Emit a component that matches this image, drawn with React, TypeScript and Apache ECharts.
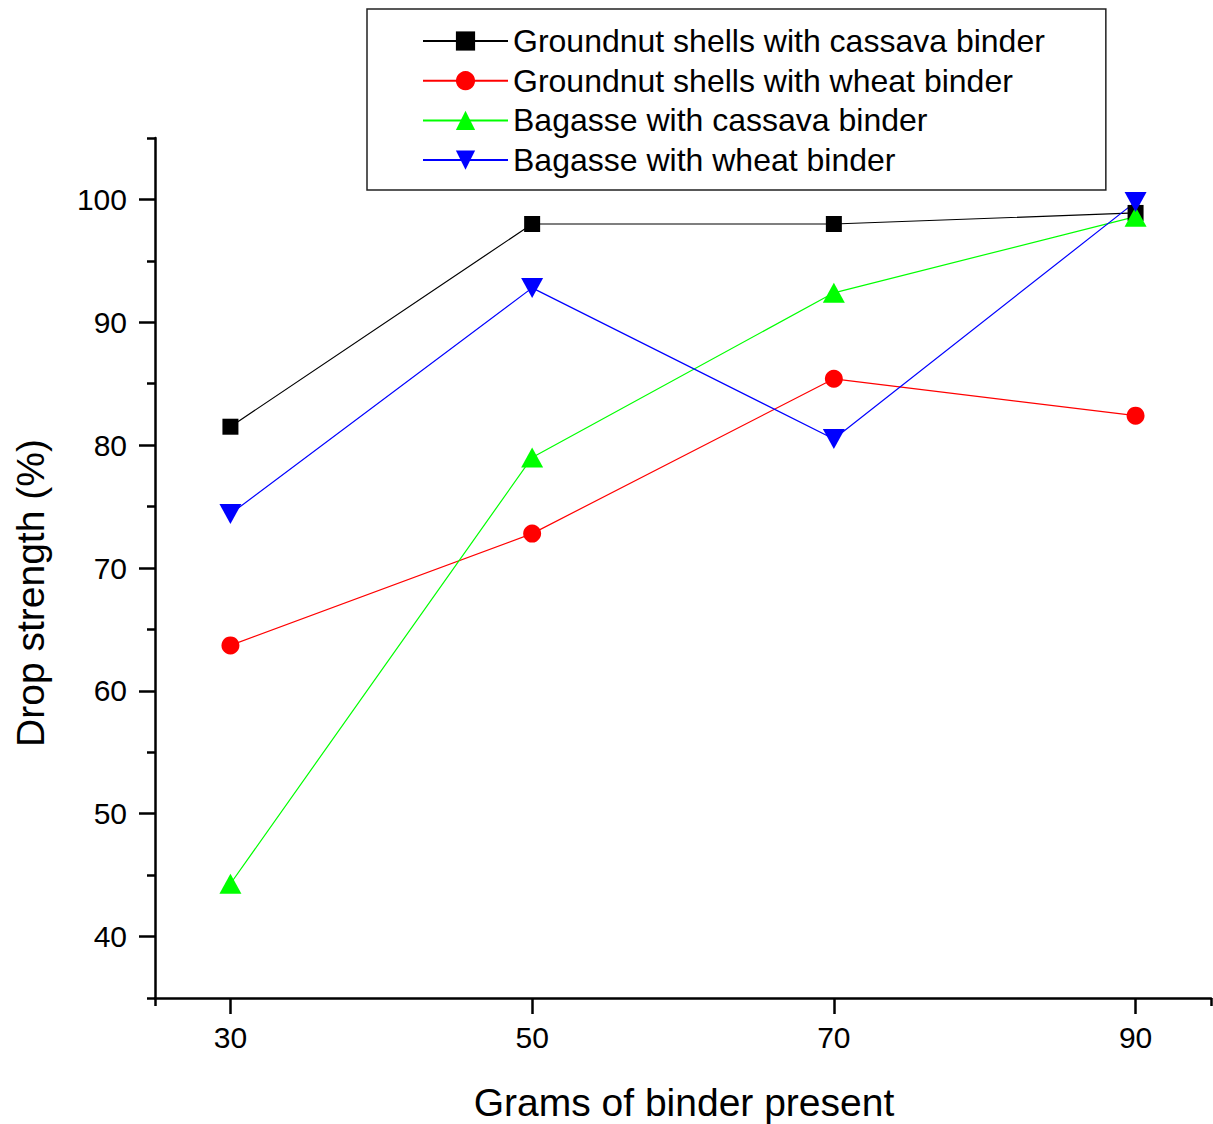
import React, { useEffect, useRef } from "react";
import * as echarts from "echarts";

const xValues = [30, 50, 70, 90];
const groundnutCassava = [81.5, 98.0, 98.0, 98.9];
const groundnutWheat = [63.7, 72.8, 85.4, 82.4];
const bagasseCassava = [44.3, 79.0, 92.4, 98.6];
const bagasseWheat = [74.4, 92.8, 80.5, 99.8];

const seriesNames = [
  "Groundnut shells with cassava binder",
  "Groundnut shells with wheat binder",
  "Bagasse with cassava binder",
  "Bagasse with wheat binder",
];
const xMajorTicks = [30, 50, 70, 90];
const xEdgeTicks = [25, 95];
const yMajorTicks = [40, 50, 60, 70, 80, 90, 100];
const yMinorTicks = [35, 45, 55, 65, 75, 85, 95, 105];

const FONT = "'Liberation Sans', Arial, sans-serif";

export default function App() {
  const ref = useRef<HTMLDivElement>(null);
  useEffect(() => {
    document.body.style.margin = "0";
    if (!ref.current) return;
    const chart = echarts.init(ref.current, null, { renderer: "svg" });
    const pair = (arr: number[]) => xValues.map((x, i) => [x, arr[i]]);
    const axisLineStyle = { color: "#000", width: 2.5 };
    chart.setOption({
      animation: false,
      backgroundColor: "#fff",
      textStyle: { fontFamily: FONT },
      grid: { left: 155, right: 2, top: 138, bottom: 126, containLabel: false },
      legend: {
        orient: "vertical",
        left: 367,
        top: 9,
        width: 680,
        padding: [16, 61, 14, 55],
        itemWidth: 85,
        itemHeight: 24,
        itemGap: 7.7,
        borderColor: "#222",
        borderWidth: 1.5,
        backgroundColor: "#fff",
        textStyle: { fontSize: 32, color: "#000", fontFamily: FONT },
        data: seriesNames,
      },
      xAxis: [
        {
          type: "value",
          min: 25,
          max: 95,
          position: "bottom",
          axisLine: { show: true, onZero: false, lineStyle: axisLineStyle },
          axisTick: { show: true, customValues: xMajorTicks, length: 16, lineStyle: axisLineStyle },
          axisLabel: { customValues: xMajorTicks, fontSize: 30, color: "#000", margin: 24, fontFamily: FONT },
          splitLine: { show: false },
        },
        {
          type: "value",
          min: 25,
          max: 95,
          position: "bottom",
          axisLine: { show: false },
          axisTick: { show: true, customValues: xEdgeTicks, length: 8, lineStyle: axisLineStyle },
          axisLabel: { show: false },
          splitLine: { show: false },
        },
      ],
      yAxis: [
        {
          type: "value",
          min: 35,
          max: 105,
          position: "left",
          axisLine: { show: true, onZero: false, lineStyle: axisLineStyle },
          axisTick: { show: true, customValues: yMajorTicks, length: 16, lineStyle: axisLineStyle },
          axisLabel: { customValues: yMajorTicks, fontSize: 30, color: "#000", margin: 28, fontFamily: FONT },
          splitLine: { show: false },
        },
        {
          type: "value",
          min: 35,
          max: 105,
          position: "left",
          offset: 0,
          axisLine: { show: false },
          axisTick: { show: true, customValues: yMinorTicks, length: 8, lineStyle: axisLineStyle },
          axisLabel: { show: false },
          splitLine: { show: false },
        },
      ],
      graphic: [
        {
          type: "text",
          x: 30,
          y: 593,
          rotation: Math.PI / 2,
          style: {
            text: "Drop strength (%)",
            fontSize: 39,
            fill: "#000",
            align: "center",
            verticalAlign: "middle",
            fontFamily: FONT,
          },
        },
        {
          type: "text",
          x: 684,
          y: 1102,
          style: {
            text: "Grams of binder present",
            fontSize: 39,
            fill: "#000",
            align: "center",
            verticalAlign: "middle",
            fontFamily: FONT,
          },
        },
      ],
      series: [
        {
          name: seriesNames[0],
          type: "line",
          data: pair(groundnutCassava),
          symbol: "rect",
          symbolSize: 16,
          itemStyle: { color: "#000000" },
          lineStyle: { color: "#000000", width: 1.2 },
        },
        {
          name: seriesNames[1],
          type: "line",
          data: pair(groundnutWheat),
          symbol: "circle",
          symbolSize: 18,
          itemStyle: { color: "#ff0000" },
          lineStyle: { color: "#ff0000", width: 1.2 },
        },
        {
          name: seriesNames[2],
          type: "line",
          data: pair(bagasseCassava),
          symbol: "triangle",
          symbolSize: [22, 20],
          itemStyle: { color: "#00ff00" },
          lineStyle: { color: "#00ff00", width: 1.2 },
        },
        {
          name: seriesNames[3],
          type: "line",
          data: pair(bagasseWheat),
          symbol: "triangle",
          symbolRotate: 180,
          symbolSize: [22, 20],
          itemStyle: { color: "#0000ff" },
          lineStyle: { color: "#0000ff", width: 1.2 },
        },
      ],
    });
    return () => chart.dispose();
  }, []);
  return <div ref={ref} style={{ width: 1213, height: 1124 }} />;
}
